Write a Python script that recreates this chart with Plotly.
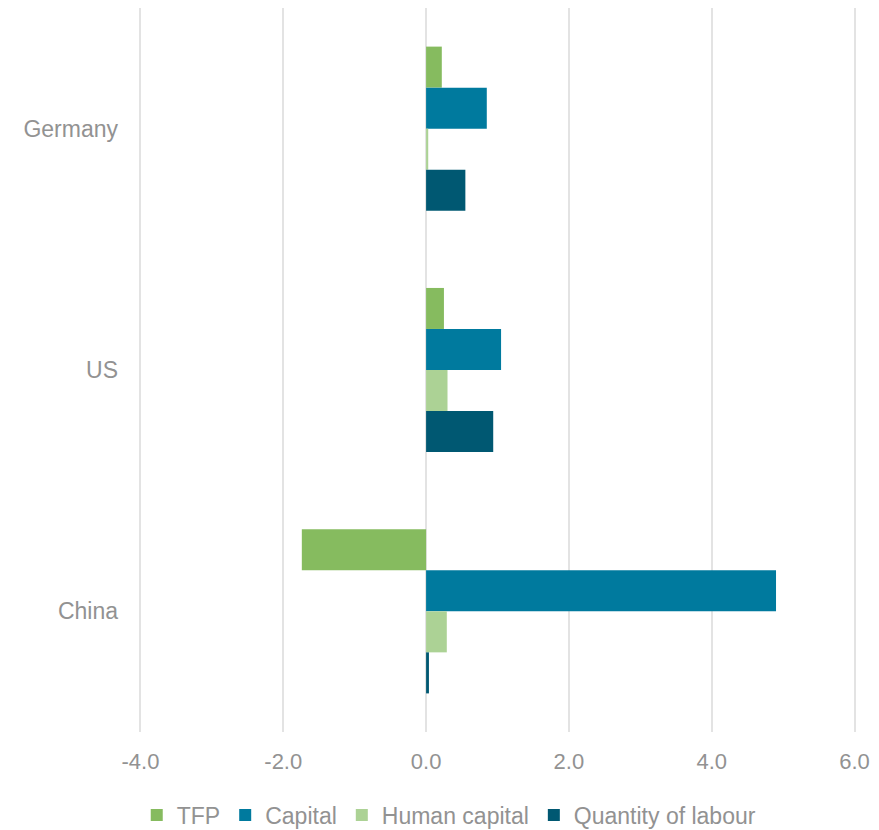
import plotly.graph_objects as go

countries = ["Germany", "US", "China"]
series_names = ["TFP", "Capital", "Human capital", "Quantity of labour"]
tfp = [0.22, 0.25, -1.74]
capital = [0.85, 1.05, 4.90]
human_capital = [0.03, 0.30, 0.29]
labour = [0.55, 0.94, 0.04]
x_ticks = [-4, -2, 0, 2, 4, 6]
x_tick_labels = ["-4.0", "-2.0", "0.0", "2.0", "4.0", "6.0"]

colors = ["#86bb5f", "#007a9e", "#acd295", "#005872"]
values = [tfp, capital, human_capital, labour]

fig = go.Figure()
for name, vals, col in zip(series_names, values, colors):
    fig.add_trace(go.Bar(
        y=countries, x=vals, name=name, orientation="h",
        marker=dict(color=col, line=dict(width=0)),
    ))

font_family = "Liberation Sans, Arial, sans-serif"
txt_color = "#929292"
fig.update_layout(
    width=879, height=830,
    margin=dict(l=139, r=23, t=8, b=98, autoexpand=False),
    paper_bgcolor="white", plot_bgcolor="white",
    barmode="group", bargap=0.32, bargroupgap=0,
    font=dict(family=font_family, size=23, color=txt_color),
    showlegend=True,
    legend=dict(orientation="h", x=0.432, xanchor="center",
                yref="container", y=0.018, yanchor="middle",
                font=dict(size=23, color=txt_color), traceorder="normal",
                itemwidth=30, tracegroupgap=0),
    xaxis=dict(range=[-4.02, 6.02], tickvals=x_ticks, ticktext=x_tick_labels,
               showgrid=True, gridcolor="#e3e3e3", gridwidth=2,
               zeroline=False, showline=False, ticks="",
               ticklabelstandoff=14, automargin=False,
               tickfont=dict(size=22, color=txt_color)),
    yaxis=dict(autorange="reversed", showgrid=False, showline=False, ticks="",
               automargin=False,
               tickfont=dict(size=23, color=txt_color), ticklabelstandoff=20),
)

fig.write_html("out.html")
